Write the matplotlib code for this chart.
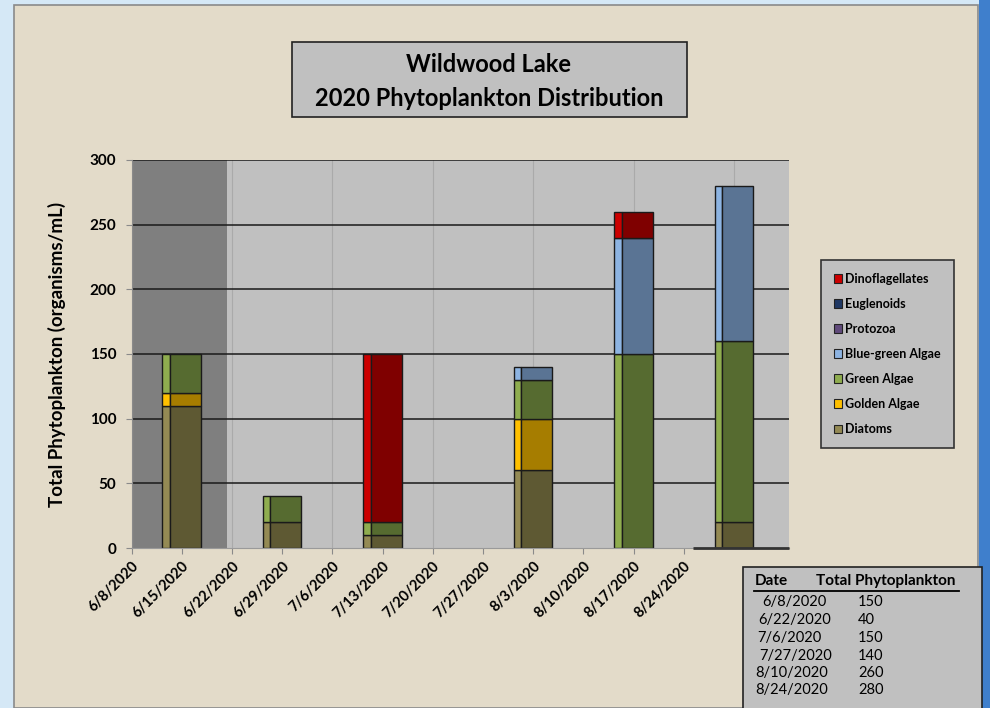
"""Wildwood Lake 2020 phytoplankton distribution - stacked bars on a date axis."""
import matplotlib
matplotlib.use("Agg")
import matplotlib.pyplot as plt
from matplotlib.patches import Rectangle
from matplotlib.lines import Line2D

plt.rcParams["font.family"] = ["Lato", "DejaVu Sans"]

# sample dates (as listed in the summary table) and where Excel drew the bars
sample_dates = ["6/8/2020", "6/22/2020", "7/6/2020", "7/27/2020", "8/10/2020", "8/24/2020"]
bar_days = [7, 21, 35, 56, 70, 84]          # days after 6/8/2020 on the chart axis
totals = [150, 40, 150, 140, 260, 280]

tick_labels = ["6/8/2020", "6/15/2020", "6/22/2020", "6/29/2020", "7/6/2020", "7/13/2020",
               "7/20/2020", "7/27/2020", "8/3/2020", "8/10/2020", "8/17/2020", "8/24/2020"]

# stacked series, bottom to top
diatoms = [110, 20, 10, 60, 0, 20]
golden = [10, 0, 0, 40, 0, 0]
green = [30, 20, 10, 30, 150, 140]
bluegreen = [0, 0, 0, 10, 90, 120]
protozoa = [0, 0, 0, 0, 0, 0]
euglenoids = [0, 0, 0, 0, 0, 0]
dinos = [0, 0, 130, 0, 20, 0]

series = [
    ("Diatoms", diatoms, "#948a54", "#5e5933"),
    ("Golden Algae", golden, "#ffc000", "#a67d00"),
    ("Green Algae", green, "#8fad4f", "#566b30"),
    ("Blue-green Algae", bluegreen, "#8db4e2", "#5a7494"),
    ("Protozoa", protozoa, "#604a7b", "#3e304f"),
    ("Euglenoids", euglenoids, "#1f3864", "#142440"),
    ("Dinoflagellates", dinos, "#cc0000", "#7f0000"),
]
legend_order = ["Dinoflagellates", "Euglenoids", "Protozoa", "Blue-green Algae",
                "Green Algae", "Golden Algae", "Diatoms"]

W, H = 990, 708
fig = plt.figure(figsize=(9.9, 7.08), dpi=100)
fig.patch.set_facecolor("#d5e8f6")


def fx(px):
    return px / W


def fy(py):
    return 1 - py / H


# beige panel and the blue strip on the right
fig.patches.append(Rectangle((fx(14), 0), fx(964), fy(5), transform=fig.transFigure,
                             facecolor="#e3dbc9", edgecolor="#8a8a8a", lw=1.2, zorder=-5))
fig.patches.append(Rectangle((fx(979), 0), fx(11), 1, transform=fig.transFigure,
                             facecolor="#3f7fcc", edgecolor="none", zorder=-5))

ax = fig.add_axes([fx(131.5), fy(548), fx(789 - 131.5), fy(160) - fy(548)])
ax.set_zorder(1)
ax.set_facecolor("#c0c0c0")
xmax = (789 - 131.5) / 50.2 * 7
ax.set_xlim(0, xmax)
ax.set_ylim(0, 300)

# darker shaded period at the start
ax.axvspan(0, 13.3, color="#7f7f7f", zorder=0.5, lw=0)

# grid
for d in range(0, 92, 14):
    ax.axvline(d, color="#aaaaaa", lw=0.8, zorder=0.6)
for v in range(50, 301, 50):
    ax.axhline(v, color="#1a1a1a", lw=1.1, zorder=0.7)

bar_w = 5.4
strip_w = 1.05
for i, x in enumerate(bar_days):
    bottom = 0
    left = x - bar_w / 2
    for name, vals, light, dark in series:
        v = vals[i]
        if v == 0:
            continue
        ax.add_patch(Rectangle((left, bottom), strip_w, v, facecolor=light,
                               edgecolor="#1a1a1a", lw=1.0, zorder=2))
        ax.add_patch(Rectangle((left + strip_w, bottom), bar_w - strip_w, v, facecolor=dark,
                               edgecolor="#1a1a1a", lw=1.0, zorder=2))
        bottom += v

ax.hlines(0, 78.3, xmax, color="#333333", lw=2, zorder=3, clip_on=False)

for s in ["top", "right"]:
    ax.spines[s].set_visible(False)
ax.spines["left"].set_color("#8a8a8a")
ax.spines["bottom"].set_color("#9a9a9a")

ax.set_xticks(range(0, 78, 7))
ax.set_xticklabels(tick_labels, rotation=45, ha="right", rotation_mode="anchor",
                   fontsize=10.5, fontweight="bold")
ax.set_yticks(range(0, 301, 50))
ax.set_yticklabels([str(v) for v in range(0, 301, 50)], fontsize=11, fontweight="bold")
ax.tick_params(axis="both", colors="#8a8a8a", labelcolor="black", length=4)
ax.tick_params(axis="y", pad=7)
ax.tick_params(axis="x", pad=4)
ax.set_ylabel("Total Phytoplankton (organisms/mL)", fontsize=13.5, fontweight="bold", labelpad=17)

# title box
fig.patches.append(Rectangle((fx(292), fy(117)), fx(687 - 292), fy(42) - fy(117),
                             transform=fig.transFigure, facecolor="#c0c0c0",
                             edgecolor="#222222", lw=1.2, zorder=1))
fig.text(fx(489), fy(65), "Wildwood Lake", ha="center", va="center",
         fontsize=17, fontweight="bold")
fig.text(fx(489), fy(99), "2020 Phytoplankton Distribution", ha="center", va="center",
         fontsize=17, fontweight="bold")

# legend, top item first
lookup = {name: light for name, _, light, _ in series}
handles = [Rectangle((0, 0), 1, 1, facecolor=lookup[n], edgecolor="#222222", lw=0.8)
           for n in legend_order]
leg = fig.legend(handles, legend_order, loc="upper left",
                 bbox_to_anchor=(fx(821), fy(260)), frameon=True, fancybox=False,
                 prop={"size": 9, "weight": "bold"}, handlelength=0.7, handleheight=0.7,
                 handletextpad=0.25, labelspacing=1.05, borderpad=1.0, borderaxespad=0)
leg.get_frame().set_facecolor("#c0c0c0")
leg.get_frame().set_edgecolor("#333333")
leg.get_frame().set_linewidth(1.2)
leg.get_frame().set_alpha(1)
leg.set_zorder(3)

# summary table box
fig.patches.append(Rectangle((fx(743), fy(712)), fx(982 - 743), fy(567) - fy(712),
                             transform=fig.transFigure, facecolor="#c0c0c0",
                             edgecolor="#222222", lw=1.2, zorder=1))
fig.text(fx(755), fy(581), "Date", ha="left", va="center", fontsize=11, fontweight="bold")
fig.text(fx(816), fy(581), "Total Phytoplankton", ha="left", va="center",
         fontsize=11, fontweight="bold")
fig.lines.append(Line2D([fx(754), fx(959)], [fy(591), fy(591)], transform=fig.transFigure,
                        color="black", lw=1.3))
row_y = [602, 620, 638, 656, 673, 690]
date_x = [762, 758, 757, 759, 755, 755]
for d, t, yy, xx in zip(sample_dates, totals, row_y, date_x):
    fig.text(fx(xx), fy(yy), d, ha="left", va="center", fontsize=10.5)
    fig.text(fx(858), fy(yy), str(t), ha="left", va="center", fontsize=10.5)

fig.savefig("out.png", dpi=100, facecolor=fig.get_facecolor())
